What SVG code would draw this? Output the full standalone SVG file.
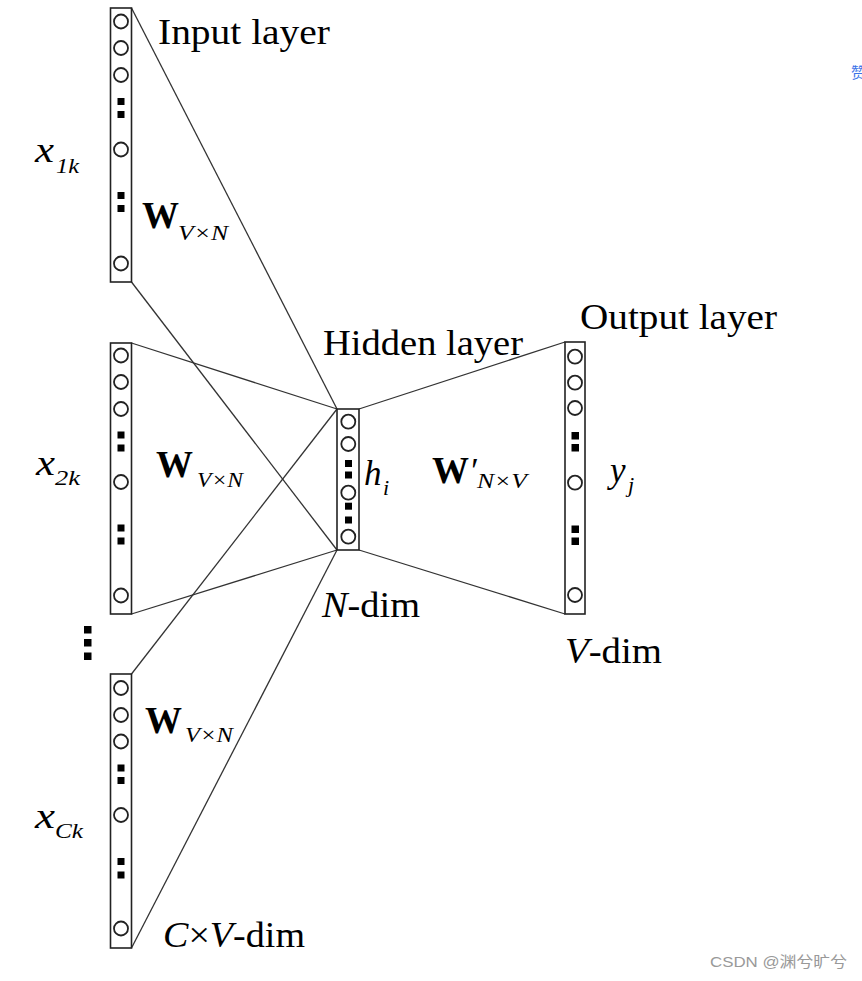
<svg xmlns="http://www.w3.org/2000/svg" width="862" height="981" viewBox="0 0 862 981">
<style>
  .box{fill:none;stroke:#222;stroke-width:1.6}
  .n{fill:none;stroke:#222;stroke-width:1.8}
  .d{fill:#000}
  .ln{stroke:#333;stroke-width:1.3;fill:none}
  .t{font-family:"Liberation Serif","Times New Roman",serif;fill:#000}
  .lbl{font-size:35px}
  .it{font-style:italic}
  .var{font-size:35px;font-style:italic}
  .sub{font-size:22px;font-style:italic}
  .bw{font-size:37px;font-weight:bold}
  .wm{font-family:"Liberation Sans","Noto Sans CJK SC",sans-serif;font-size:15px;fill:#999}
</style>
<rect width="862" height="981" fill="#fff"/>
<g id="connectors">
  <line class="ln" x1="131.5" y1="8" x2="337" y2="409"/>
  <line class="ln" x1="131.5" y1="282" x2="337" y2="550"/>
  <line class="ln" x1="131.5" y1="343" x2="337" y2="409"/>
  <line class="ln" x1="131.5" y1="614" x2="337" y2="550"/>
  <line class="ln" x1="131.5" y1="674" x2="337" y2="409"/>
  <line class="ln" x1="131.5" y1="948" x2="337" y2="550"/>
  <line class="ln" x1="359" y1="409" x2="565" y2="342"/>
  <line class="ln" x1="359" y1="550" x2="565" y2="614"/>
</g>
<g id="input1">
  <rect class="box" x="110.5" y="8" width="21" height="274"/>
  <circle class="n" cx="121" cy="21.5" r="7"/>
  <circle class="n" cx="121" cy="48" r="7"/>
  <circle class="n" cx="121" cy="75" r="7"/>
  <rect class="d" x="117.5" y="98" width="7" height="7"/>
  <rect class="d" x="117.5" y="111" width="7" height="7"/>
  <circle class="n" cx="121" cy="149.5" r="7"/>
  <rect class="d" x="117.5" y="192" width="7" height="7"/>
  <rect class="d" x="117.5" y="205" width="7" height="7"/>
  <circle class="n" cx="121" cy="263.5" r="7"/>
</g>
<g id="input2">
  <rect class="box" x="110.5" y="343" width="21" height="271"/>
  <circle class="n" cx="121" cy="355.5" r="7"/>
  <circle class="n" cx="121" cy="382" r="7"/>
  <circle class="n" cx="121" cy="409" r="7"/>
  <rect class="d" x="117.5" y="431.5" width="7" height="7"/>
  <rect class="d" x="117.5" y="444.5" width="7" height="7"/>
  <circle class="n" cx="121" cy="482" r="7"/>
  <rect class="d" x="117.5" y="524.5" width="7" height="7"/>
  <rect class="d" x="117.5" y="537.5" width="7" height="7"/>
  <circle class="n" cx="121" cy="595.5" r="7"/>
</g>
<g id="ellipsis">
  <rect class="d" x="84" y="626" width="7.5" height="7.5"/>
  <rect class="d" x="84" y="639" width="7.5" height="7.5"/>
  <rect class="d" x="84" y="652.5" width="7.5" height="7.5"/>
</g>
<g id="input3">
  <rect class="box" x="110.5" y="674" width="21" height="274"/>
  <circle class="n" cx="121" cy="688" r="7"/>
  <circle class="n" cx="121" cy="715" r="7"/>
  <circle class="n" cx="121" cy="741.5" r="7"/>
  <rect class="d" x="117.5" y="764.5" width="7" height="7"/>
  <rect class="d" x="117.5" y="777" width="7" height="7"/>
  <circle class="n" cx="121" cy="815" r="7"/>
  <rect class="d" x="117.5" y="858" width="7" height="7"/>
  <rect class="d" x="117.5" y="871.5" width="7" height="7"/>
  <circle class="n" cx="121" cy="928.5" r="7"/>
</g>
<g id="hidden">
  <rect class="box" x="337" y="409" width="22" height="141"/>
  <circle class="n" cx="348.3" cy="421.7" r="7"/>
  <circle class="n" cx="348.3" cy="444" r="7"/>
  <rect class="d" x="345" y="460" width="7" height="7"/>
  <rect class="d" x="345" y="471.5" width="7" height="7"/>
  <circle class="n" cx="348.3" cy="492.7" r="7"/>
  <rect class="d" x="345" y="502.7" width="7" height="7"/>
  <rect class="d" x="345" y="516.5" width="7" height="7"/>
  <circle class="n" cx="348.3" cy="536.7" r="7"/>
</g>
<g id="output">
  <rect class="box" x="565" y="342" width="20" height="272"/>
  <circle class="n" cx="575" cy="356.7" r="7"/>
  <circle class="n" cx="575" cy="382.7" r="7"/>
  <circle class="n" cx="575" cy="408" r="7"/>
  <rect class="d" x="571.5" y="432" width="7.5" height="7.5"/>
  <rect class="d" x="571.5" y="444" width="7.5" height="7.5"/>
  <circle class="n" cx="575" cy="482.7" r="7"/>
  <rect class="d" x="571.5" y="525.5" width="7.5" height="7.5"/>
  <rect class="d" x="571.5" y="537.5" width="7.5" height="7.5"/>
  <circle class="n" cx="575" cy="595" r="7"/>
</g>
<g id="labels">
  <text class="t lbl" x="158" y="44" textLength="172" lengthAdjust="spacingAndGlyphs">Input layer</text>
  <text class="t lbl" x="323" y="355" textLength="200" lengthAdjust="spacingAndGlyphs">Hidden layer</text>
  <text class="t lbl" x="580" y="329" textLength="197" lengthAdjust="spacingAndGlyphs">Output layer</text>
  <text class="t lbl" x="322" y="617" textLength="98" lengthAdjust="spacingAndGlyphs"><tspan class="it">N</tspan>-dim</text>
  <text class="t lbl" x="565" y="663" textLength="97" lengthAdjust="spacingAndGlyphs"><tspan class="it">V</tspan>-dim</text>
  <text class="t lbl" x="163" y="947" textLength="142" lengthAdjust="spacingAndGlyphs"><tspan class="it">C</tspan>×<tspan class="it">V</tspan>-dim</text>

  <text class="t var" x="35" y="162" textLength="19" lengthAdjust="spacingAndGlyphs">x</text>
  <text class="t sub" x="56" y="173" textLength="23" lengthAdjust="spacingAndGlyphs">1k</text>
  <text class="t var" x="36" y="475" textLength="19" lengthAdjust="spacingAndGlyphs">x</text>
  <text class="t sub" x="55" y="485" textLength="25" lengthAdjust="spacingAndGlyphs">2k</text>
  <text class="t var" x="35" y="828" textLength="20" lengthAdjust="spacingAndGlyphs">x</text>
  <text class="t sub" x="55" y="838" textLength="28" lengthAdjust="spacingAndGlyphs">Ck</text>

  <text class="t bw" x="142" y="228">W</text>
  <text class="t sub" x="178" y="240" textLength="50" lengthAdjust="spacingAndGlyphs">V×N</text>
  <text class="t bw" x="156" y="477">W</text>
  <text class="t sub" x="197" y="487" textLength="46" lengthAdjust="spacingAndGlyphs">V×N</text>
  <text class="t bw" x="145" y="733">W</text>
  <text class="t sub" x="185" y="742" textLength="48" lengthAdjust="spacingAndGlyphs">V×N</text>

  <text class="t var" x="364" y="485">h</text>
  <text class="t sub" x="383" y="495">i</text>

  <text class="t bw" x="432" y="483">W</text>
  <text class="t var" x="469" y="483">′</text>
  <text class="t sub" x="477" y="488" textLength="50" lengthAdjust="spacingAndGlyphs">N×V</text>

  <text class="t var" x="610" y="482">y</text>
  <text class="t sub" x="628" y="492">j</text>
</g>
<text x="851" y="78" font-family="'Noto Sans CJK SC',sans-serif" font-size="15" fill="#3b73e8">赞</text>
<text class="wm" x="710" y="967" textLength="137" lengthAdjust="spacingAndGlyphs">CSDN @渊兮旷兮</text>
</svg>
